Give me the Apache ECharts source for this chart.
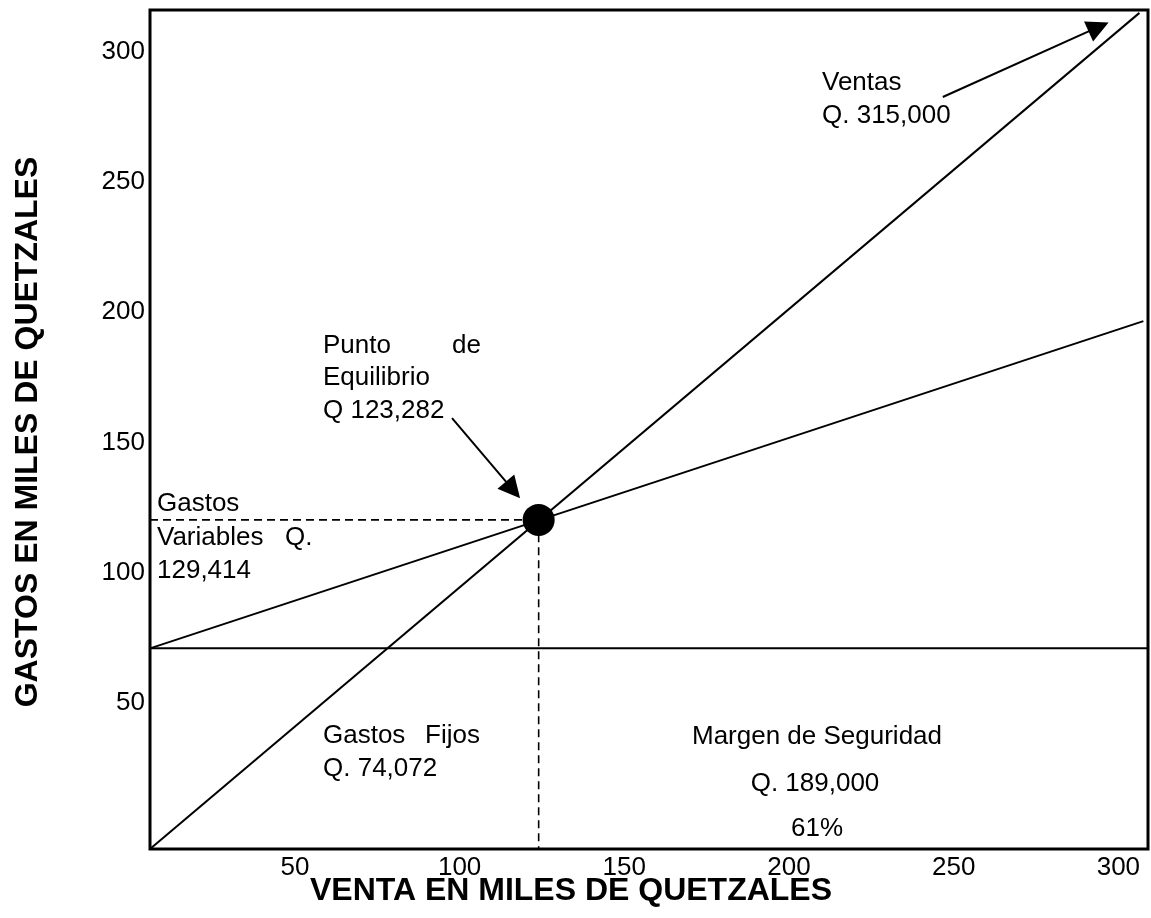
<!DOCTYPE html>
<html>
<head>
<meta charset="utf-8">
<script src="https://cdn.jsdelivr.net/npm/echarts@6/dist/echarts.min.js"></script>
<style>html,body{margin:0;padding:0;background:#fff}#c{width:1151px;height:918px}</style>
</head>
<body>
<div id="c"></div>
<script>
// Data (thousands of quetzales)
const xTicks = [50, 100, 150, 200, 250, 300];
const yTicks = [50, 100, 150, 200, 250, 300];
const ventas = [[6, -6], [306.4, 314.9]];
const gastosFijos = [[6, 71], [309, 71]];
const gastosTotales = [[6, 71], [307.6, 196.6]];
const equilibrio = [124, 120.3];
const guia = [[6, 120.3], [124, 120.3], [124, -6]];
const flechaEquilibrio = [[97.7, 159.4], [116.2, 131.8]];
const flechaVentas = [[246.7, 282.6], [294.0, 309.5]];

const FONT = "'Liberation Sans', Arial, sans-serif";
const chart = echarts.init(document.getElementById('c'), null, {renderer: 'canvas'});

function txt(text, x, y, extra) {
  return {
    type: 'text', z: 100,
    style: Object.assign({text: text, x: x, y: y, fill: '#000', font: '26px ' + FONT, verticalAlign: 'middle'}, extra || {})
  };
}

const solid = {color: '#000', width: 2};
chart.setOption({
  animation: false,
  backgroundColor: '#fff',
  grid: {left: 150, right: 3, top: 10, bottom: 69, show: true, borderColor: '#000', borderWidth: 3, backgroundColor: 'transparent'},
  xAxis: {
    type: 'value', min: 6, max: 309,
    axisLine: {show: false}, axisTick: {show: false}, splitLine: {show: false},
    axisLabel: {customValues: xTicks, margin: 6, fontSize: 26, fontFamily: FONT, color: '#000'}
  },
  yAxis: {
    type: 'value', min: -6, max: 316,
    axisLine: {show: false}, axisTick: {show: false}, splitLine: {show: false},
    axisLabel: {customValues: yTicks, margin: 5, fontSize: 26, fontFamily: FONT, color: '#000'}
  },
  series: [
    {type: 'line', data: ventas, symbol: 'none', lineStyle: solid, z: 3},
    {type: 'line', data: gastosFijos, symbol: 'none', lineStyle: solid, z: 3},
    {type: 'line', data: gastosTotales, symbol: 'none', lineStyle: solid, z: 3},
    {type: 'line', data: guia, symbol: 'none', lineStyle: {color: '#000', width: 1.6, type: [8, 5]}, z: 2},
    {type: 'scatter', data: [equilibrio], symbolSize: 32, itemStyle: {color: '#000', opacity: 1}, z: 5,
      markLine: {
        silent: true, symbol: ['none', 'triangle'], symbolSize: 22,
        lineStyle: {color: '#000', width: 2, type: 'solid'}, label: {show: false},
        data: [
          [{coord: flechaEquilibrio[0]}, {coord: flechaEquilibrio[1]}],
          [{coord: flechaVentas[0]}, {coord: flechaVentas[1]}]
        ]
      }
    }
  ],
  graphic: [
    txt('Ventas', 822, 83),
    txt('Q. 315,000', 822, 116),
    txt('Punto', 323, 346),
    txt('de', 452, 346),
    txt('Equilibrio', 323, 378),
    txt('Q 123,282', 323, 411),
    txt('Gastos', 157, 504),
    txt('Variables', 157, 538),
    txt('Q.', 285, 538),
    txt('129,414', 157, 571),
    txt('Gastos', 323, 736),
    txt('Fijos', 425, 736),
    txt('Q. 74,072', 323, 769),
    txt('Margen de Seguridad', 817, 737, {align: 'center'}),
    txt('Q. 189,000', 815, 784, {align: 'center'}),
    txt('61%', 817, 829, {align: 'center'}),
    txt('VENTA EN MILES DE QUETZALES', 571, 891, {align: 'center', font: 'bold 32px ' + FONT}),
    {type: 'text', z: 100, x: 28, y: 432, rotation: Math.PI / 2,
      style: {text: 'GASTOS EN MILES DE QUETZALES', x: 0, y: 0, align: 'center', verticalAlign: 'middle', fill: '#000', font: 'bold 32px ' + FONT}}
  ]
});
</script>
</body>
</html>
